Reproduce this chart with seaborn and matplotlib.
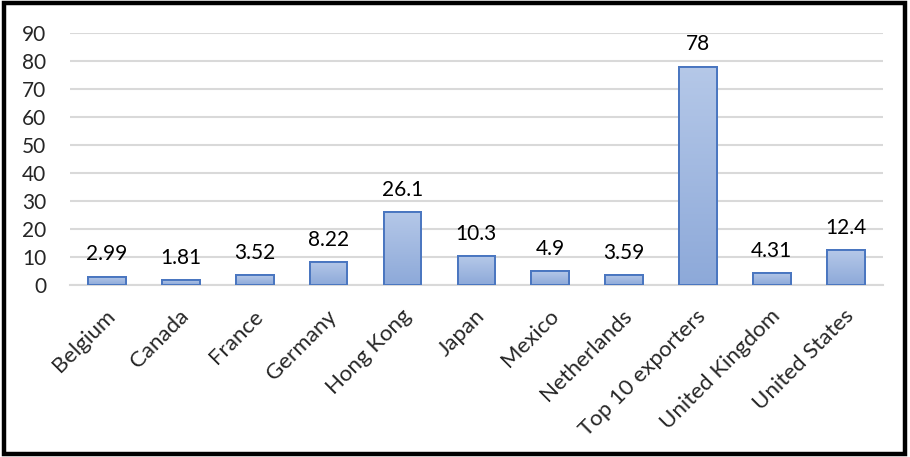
import numpy as np
import pandas as pd
import matplotlib
matplotlib.use("Agg")
import matplotlib.pyplot as plt
import matplotlib.transforms as mtransforms
from matplotlib.colors import LinearSegmentedColormap
from matplotlib.patches import Rectangle
import seaborn as sns

categories = ["Belgium", "Canada", "France", "Germany", "Hong Kong", "Japan",
              "Mexico", "Netherlands", "Top 10 exporters", "United Kingdom",
              "United States"]
values = [2.99, 1.81, 3.52, 8.22, 26.1, 10.3, 4.9, 3.59, 78, 4.31, 12.4]
value_labels = ["2.99", "1.81", "3.52", "8.22", "26.1", "10.3", "4.9", "3.59",
                "78", "4.31", "12.4"]
y_ticks = [0, 10, 20, 30, 40, 50, 60, 70, 80, 90]

df = pd.DataFrame({"country": categories, "value": values})

sns.set_theme(style="white")
plt.rcParams["font.family"] = ["Lato", "DejaVu Sans"]

fig = plt.figure(figsize=(9.1, 4.57), dpi=100)
ax = fig.add_axes([0.077, 0.376, 0.893, 0.552])

sns.barplot(data=df, x="country", y="value", ax=ax, width=0.51,
            color="#a3b9e0", edgecolor="#4a76c0", linewidth=1.4,
            saturation=1, zorder=3)

ax.set_ylim(0, 90)
ax.set_xlim(-0.5, len(categories) - 0.5)
ax.set_yticks(y_ticks)
ax.set_yticklabels([str(t) for t in y_ticks], fontsize=15)
ax.tick_params(axis="y", length=0, pad=17)
ax.tick_params(axis="x", length=0, pad=15)
ax.set_xticks(range(len(categories)))
ax.set_xticklabels(categories, rotation=45, ha="right", rotation_mode="anchor",
                   fontsize=16)
shift = mtransforms.ScaledTranslation(-2 / 100, 0, fig.dpi_scale_trans)
for lbl in ax.get_xticklabels():
    lbl.set_transform(lbl.get_transform() + shift)
ax.set_xlabel("")
ax.set_ylabel("")

ax.grid(axis="y", color="#d9d9d9", linewidth=1.5, zorder=0)
ax.set_axisbelow(True)
for side in ["top", "right", "left"]:
    ax.spines[side].set_visible(False)
ax.spines["bottom"].set_color("#d9d9d9")
ax.spines["bottom"].set_linewidth(1.5)

# vertical gradient fill inside each bar
grad = LinearSegmentedColormap.from_list("barfill", ["#8da9d9", "#b5c8e8"])
gradient = np.linspace(0, 1, 256).reshape(-1, 1)
for patch in list(ax.patches):
    x0, y0 = patch.get_x(), patch.get_y()
    w, h = patch.get_width(), patch.get_height()
    im = ax.imshow(gradient, cmap=grad, aspect="auto", origin="lower",
                   extent=[x0, x0 + w, y0, y0 + h], zorder=3.5,
                   interpolation="bicubic")
    im.set_clip_path(patch)
    outline = Rectangle((x0, y0), w, h, fill=False, edgecolor="#4a76c0",
                        linewidth=1.4, zorder=4)
    ax.add_patch(outline)

for i, (v, lab) in enumerate(zip(values, value_labels)):
    ax.annotate(lab, (i, v), xytext=(0, 9), textcoords="offset points",
                ha="center", va="bottom", fontsize=15, color="#000000")

ax.set_xlim(-0.5, len(categories) - 0.5)
ax.set_ylim(0, 90)

fig.patches.append(Rectangle((0.004, 0.006), 0.991, 0.988, transform=fig.transFigure,
                             fill=False, edgecolor="black", linewidth=3.2,
                             zorder=10))

fig.savefig("out.png", dpi=100, facecolor="white")
